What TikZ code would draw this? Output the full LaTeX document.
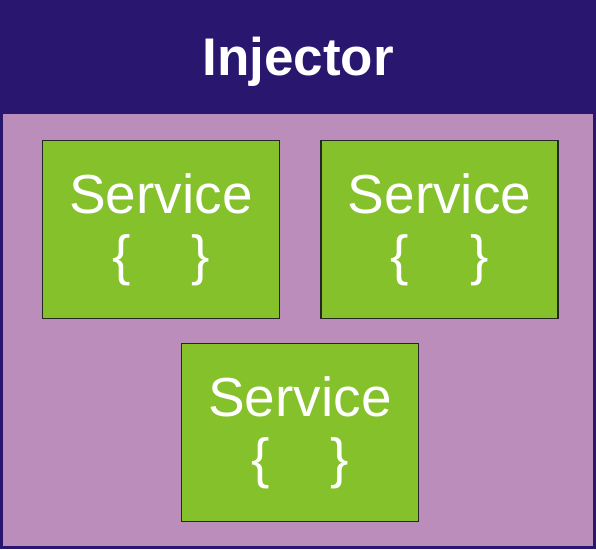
\documentclass[tikz,border=0pt]{standalone}
\usepackage{fontspec}
\setmainfont{Liberation Sans}
\usetikzlibrary{positioning}
\definecolor{injnavy}{HTML}{28166F}
\definecolor{injpurple}{HTML}{BB8DBB}
\definecolor{srvgreen}{HTML}{84C12A}
\tikzset{
    headnode/.style = {rectangle, fill=injnavy, inner sep=0pt, outer sep=0pt, minimum width=596pt, minimum height=112pt, text depth=0pt, font=\fontsize{53}{60}\selectfont\bfseries, text=white},
    bodynode/.style = {rectangle, fill=injpurple, draw=injnavy, line width=3pt, inner sep=0pt, outer sep=0pt, minimum width=593pt, minimum height=435.5pt},
    service/.style = {rectangle, draw=black!85, line width=1.5pt, fill=srvgreen, minimum width=237pt, minimum height=178pt, inner sep=0pt, align=center, font=\fontsize{55}{59}\selectfont, text=white},
}
\begin{document}
\begin{tikzpicture}[x=1pt, y=-1pt]
  \useasboundingbox (0,0) rectangle (596,549);
  \node[headnode, anchor=north west] (injector) at (0,0) {Injector};
  \node[bodynode, anchor=north west] (body) at (1.5,112) {};
  % services
  \node[service] (s1) at (161,229.5) {\raisebox{2pt}{Service}\\\{\hspace{61pt}\}};
  \node[service, right=40pt of s1] (s2) {\raisebox{2pt}{Service}\\\{\hspace{61pt}\}};
  \node[service] (s3) at (300,432.5) {\raisebox{2pt}{Service}\\\{\hspace{61pt}\}};
\end{tikzpicture}
\end{document}
